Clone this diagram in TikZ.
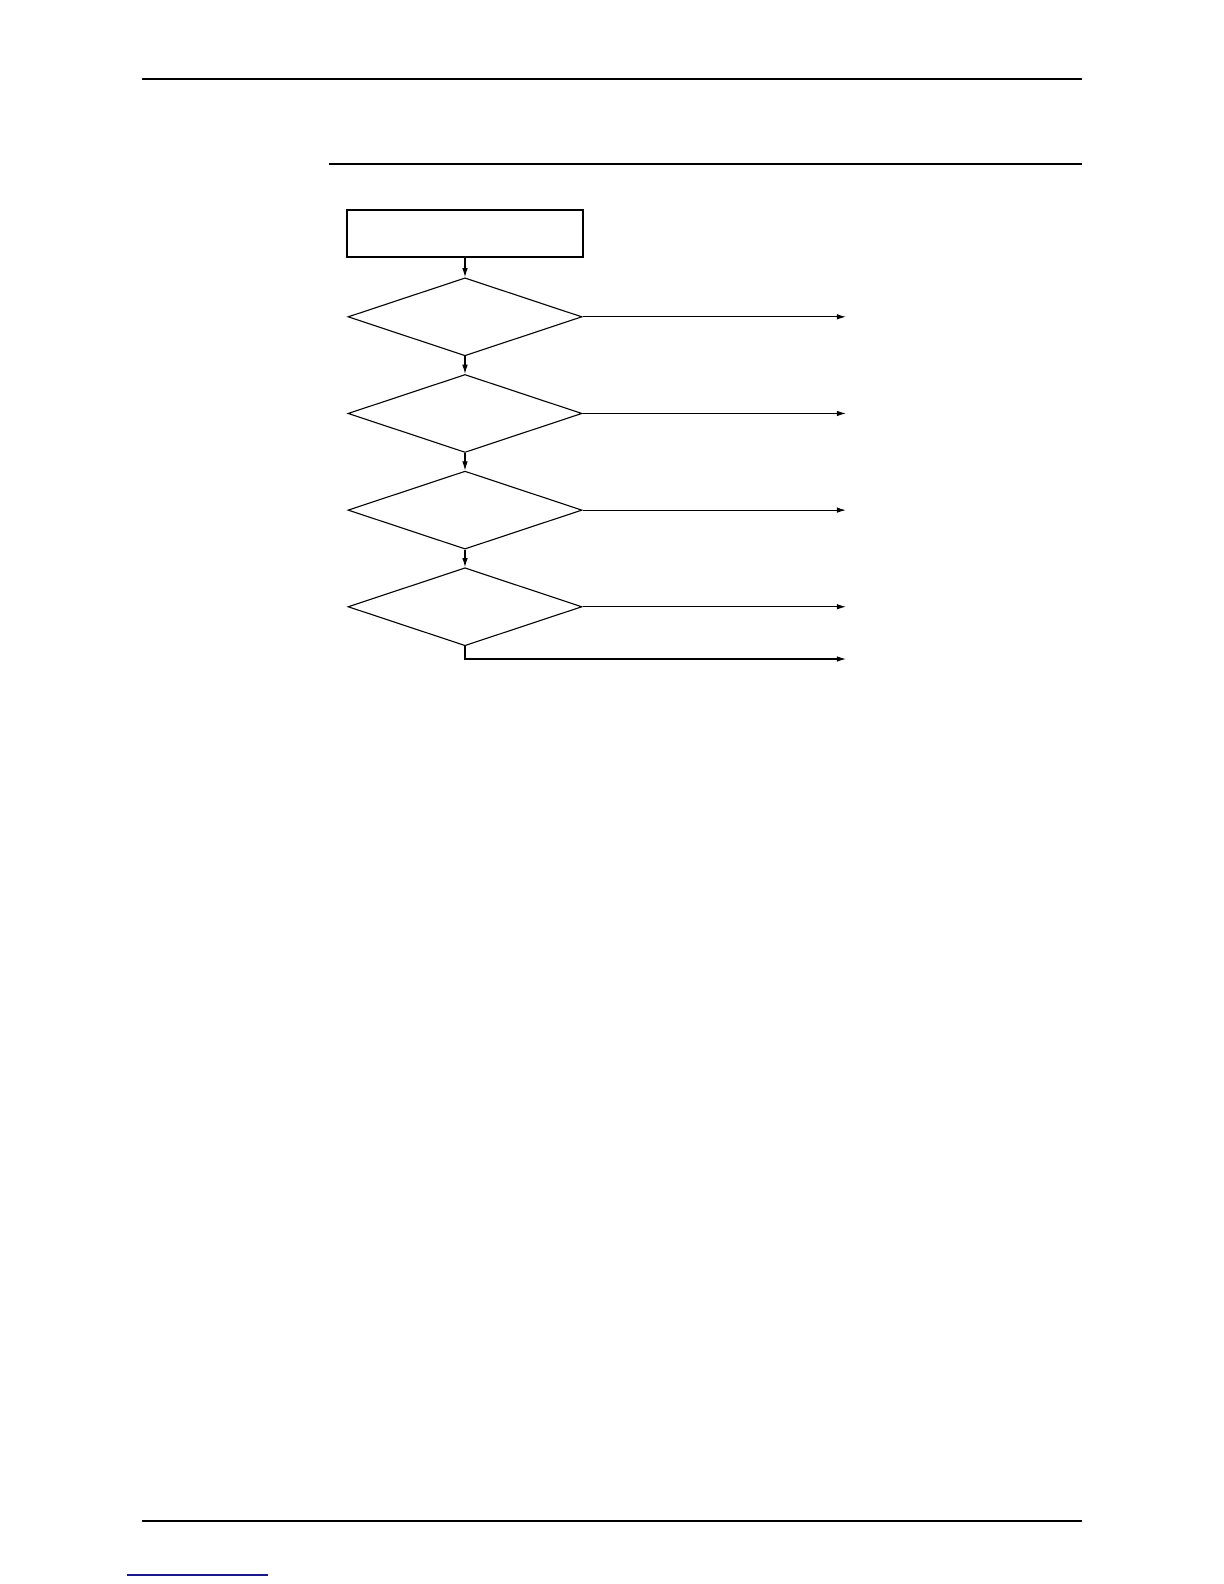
\documentclass[tikz,border=0pt]{standalone}
\usetikzlibrary{matrix,shapes.geometric,arrows.meta}
\definecolor{linkblue}{RGB}{24,24,140}
\tikzset{
	stepbox/.style  = {shape=rectangle, draw, line width=0.55pt,
		minimum width=118pt, minimum height=23.5pt, inner sep=0pt},
	decision/.style = {shape=diamond, draw, line width=0.55pt,
		minimum width=117pt, minimum height=39pt, inner sep=0pt},
	flow/.style     = {line width=0.55pt, -{Latex[length=4.6pt,width=2.8pt]}},
	rule/.style     = {line width=0.8pt}
}

\begin{document}
\begin{tikzpicture}[x=0.5pt,y=-0.5pt]
	\useasboundingbox (0,0) rectangle (1224,1584);
	% page rules
	\draw[rule] (142,79) -- (1082,79);
	\draw[rule] (329,164) -- (1082,164);
	\draw[rule] (142,1521) -- (1082,1521);
	\draw[linkblue, line width=0.8pt] (127,1575) -- (268,1575);

	\matrix (chart)
	[
	matrix of nodes,
	nodes in empty cells,
	row sep   = 9pt,
	anchor    = north,
	inner sep = 0pt
	] at (465,209)
	{
	|[stepbox]|  \\[1pt]
	|[decision]| \\
	|[decision]| \\
	|[decision]| \\
	|[decision]| \\
	};

	\coordinate (exit) at (846,0);
	\coordinate (lastexit) at (846,659);
	\foreach \i [evaluate=\i as \j using int(\i+1)] in {1,...,4}
		\draw[flow] (chart-\i-1) -- (chart-\j-1);
	\foreach \i in {2,...,5}
		\draw[flow] (chart-\i-1.east) -- (chart-\i-1.east -| exit);
	\draw[flow] (chart-5-1.south) |- (lastexit);
\end{tikzpicture}
\end{document}
